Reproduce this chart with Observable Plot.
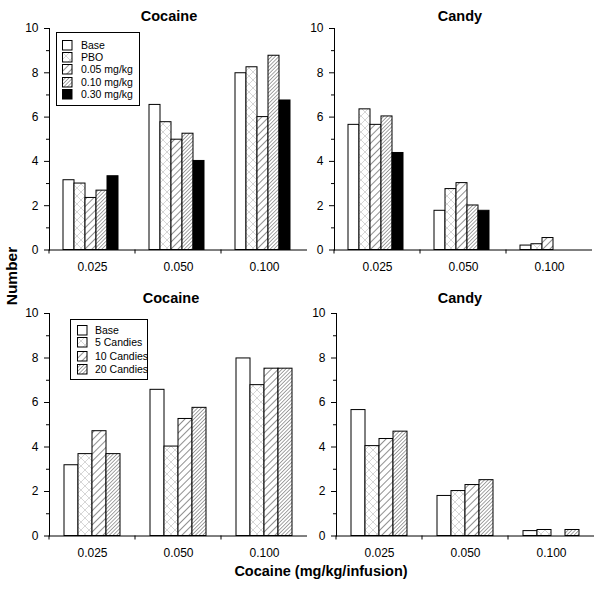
<!DOCTYPE html>
<html>
<head>
<meta charset="utf-8">
<script src="https://cdn.jsdelivr.net/npm/d3@7"></script>
<script src="https://cdn.jsdelivr.net/npm/@observablehq/plot@0.6"></script>
<style>
  html, body { margin: 0; padding: 0; background: #fff; }
  body { font-family: "Liberation Sans", Arial, Helvetica, sans-serif; color: #000; }
  #wrap { position: relative; width: 604px; height: 589px; overflow: hidden; }
  .panel { position: absolute; }
  .title { position: absolute; font-weight: bold; font-size: 14.5px; line-height: 1; transform: translateX(-50%); white-space: nowrap; }
  .ylab { position: absolute; font-weight: bold; font-size: 15.5px; line-height: 1; white-space: nowrap; transform: translate(-50%, -50%) rotate(-90deg); }
  .xlab { position: absolute; font-weight: bold; font-size: 14.5px; line-height: 1; white-space: nowrap; transform: translateX(-50%); }
  .legend { position: absolute; border: 1px solid #000; background: #fff; box-sizing: border-box; }
  .legend .row { position: absolute; left: 0; display: flex; align-items: center; font-size: 10.5px; line-height: 1; white-space: nowrap; }
  .legend svg { display: block; }
</style>
</head>
<body>
<svg width="0" height="0" style="position:absolute">
  <defs>
    <pattern id="crosshatch" patternUnits="userSpaceOnUse" width="8" height="8">
      <rect width="8" height="8" fill="#fff"/>
      <path d="M0,0L8,8M8,0L0,8" stroke="#c4c4c4" stroke-width="0.7" fill="none"/>
    </pattern>
    <pattern id="hatch" patternUnits="userSpaceOnUse" width="5" height="10" patternTransform="rotate(45)">
      <rect width="5" height="10" fill="#fff"/>
      <line x1="0" y1="0" x2="0" y2="10" stroke="#222" stroke-width="1"/>
    </pattern>
    <pattern id="densehatch" patternUnits="userSpaceOnUse" width="2.6" height="10" patternTransform="rotate(45)">
      <rect width="2.6" height="10" fill="#fff"/>
      <line x1="0" y1="0" x2="0" y2="10" stroke="#333" stroke-width="0.9"/>
    </pattern>
  </defs>
</svg>
<div id="wrap"></div>
<script>
// ---- data ----
const doses = ["0.025", "0.050", "0.100"];
const pretreatments = ["Base", "PBO", "0.05 mg/kg", "0.10 mg/kg", "0.30 mg/kg"];
const candyLoads = ["Base", "5 Candies", "10 Candies", "20 Candies"];
const yTicks = [0, 2, 4, 6, 8, 10];
const yMinorTicks = [1, 3, 5, 7, 9];
// one row per cocaine dose, one value per series
const pretreatCocaine = [[3.15, 3.0, 2.35, 2.68, 3.33], [6.55, 5.77, 4.98, 5.25, 4.02], [7.98, 8.25, 6.0, 8.77, 6.75]];
const pretreatCandy = [[5.65, 6.35, 5.65, 6.03, 4.38], [1.77, 2.75, 3.02, 2.01, 1.77], [0.2, 0.26, 0.54, 0, 0]];
const loadCocaine = [[3.18, 3.68, 4.71, 3.68], [6.57, 4.02, 5.26, 5.76], [7.98, 6.78, 7.52, 7.52]];
const loadCandy = [[5.66, 4.04, 4.36, 4.69], [1.8, 2.02, 2.29, 2.51], [0.22, 0.27, 0, 0.27]];

// ---- styles ----
const pretreatFills = ["#fff", "url(#crosshatch)", "url(#hatch)", "url(#densehatch)", "#000"];
const loadFills = ["#fff", "url(#crosshatch)", "url(#hatch)", "url(#densehatch)"];
const font = "'Liberation Sans', Arial, Helvetica, sans-serif";

const wrap = document.getElementById("wrap");

function boundaryTicks(index, scales, values, dims) {
  const ns = "http://www.w3.org/2000/svg";
  const x0 = scales.x && scales.x.range ? scales.x.range()[0] : dims.marginLeft;
  const y0 = scales.y ? scales.y(0) : dims.height - dims.marginBottom;
  const line = document.createElementNS(ns, "line");
  line.setAttribute("x1", x0); line.setAttribute("x2", x0);
  line.setAttribute("y1", y0); line.setAttribute("y2", y0 + 4);
  line.setAttribute("stroke", "#000");
  return line;
}

function panel(values, series, fills, o) {
  const rows = doses.flatMap((dose, i) => series.map((s, j) => ({dose, series: s, value: values[i][j]})));
  const chart = Plot.plot({
    width: o.width, height: o.height,
    marginLeft: o.ml, marginRight: o.mr, marginTop: o.mt, marginBottom: o.mb,
    style: {fontFamily: font, fontSize: "12px", background: "transparent", overflow: "visible", color: "#000"},
    fx: {domain: doses, padding: 0, label: null},
    x: {domain: series, paddingInner: 0, paddingOuter: o.po, align: o.align, axis: null},
    y: {domain: [0, 10], axis: null, label: null},
    color: {domain: series, range: fills},
    marks: [
      Plot.barY(rows, {fx: "dose", x: "series", y: "value", fill: "series", stroke: "#000", strokeWidth: 1}),
      Plot.ruleY([0], {stroke: "#000"}),
      Plot.frame({anchor: "left", facetAnchor: "left", stroke: "#000"}),
      Plot.axisY({ticks: yTicks, tickSize: 5, tickPadding: 6, fontSize: 12, label: null}),
      Plot.axisY({ticks: yMinorTicks, tickSize: 3, tickFormat: () => "", label: null}),
      Plot.axisFx({anchor: "bottom", tickSize: 0, tickPadding: 12, label: null, fontSize: 12}),
      boundaryTicks
    ]
  });
  chart.classList.add("panel");
  chart.style.left = o.left + "px";
  chart.style.top = o.top + "px";
  wrap.appendChild(chart);
}

panel(pretreatCocaine, pretreatments, pretreatFills, {left: 0, top: 0, width: 310, height: 290, ml: 48, mr: 3, mt: 28, mb: 40.5, po: 1.35, align: 0.46});
panel(pretreatCandy, pretreatments, pretreatFills, {left: 300, top: 0, width: 300, height: 290, ml: 33, mr: 7, mt: 28, mb: 40.5, po: 1.35, align: 0.46});
panel(loadCocaine, candyLoads, loadFills, {left: 0, top: 290, width: 310, height: 290, ml: 48, mr: 3, mt: 23, mb: 44.5, po: 1.0, align: 0.5});
panel(loadCandy, candyLoads, loadFills, {left: 300, top: 290, width: 300, height: 290, ml: 35, mr: 5, mt: 23, mb: 44.5, po: 1.0, align: 0.5});

// titles and axis labels
function addText(cls, text, x, y) {
  const d = document.createElement("div");
  d.className = cls; d.textContent = text;
  d.style.left = x + "px"; d.style.top = y + "px";
  wrap.appendChild(d);
}
addText("title", "Cocaine", 169, 8.5);
addText("title", "Candy", 460, 8.5);
addText("title", "Cocaine", 171, 291);
addText("title", "Candy", 460, 291);
addText("ylab", "Number", 12, 276);
addText("xlab", "Cocaine (mg/kg/infusion)", 321, 564);

// legends
function legend(series, fills, box, rowYs, swX, textX) {
  const lg = document.createElement("div");
  lg.className = "legend";
  Object.assign(lg.style, {left: box[0] + "px", top: box[1] + "px", width: box[2] + "px", height: box[3] + "px"});
  series.forEach((s, i) => {
    const row = document.createElement("div");
    row.className = "row";
    row.style.top = (rowYs[i] - box[1] - 6) + "px";
    row.style.height = "12px";
    row.style.left = (swX - box[0] - 1) + "px";
    const sw = document.createElementNS("http://www.w3.org/2000/svg", "svg");
    sw.setAttribute("width", 11); sw.setAttribute("height", 11);
    const r = document.createElementNS("http://www.w3.org/2000/svg", "rect");
    r.setAttribute("x", 0.5); r.setAttribute("y", 0.5); r.setAttribute("width", 9.5); r.setAttribute("height", 9.5);
    r.setAttribute("fill", fills[i]); r.setAttribute("stroke", "#000");
    sw.appendChild(r);
    const t = document.createElement("span");
    t.textContent = s;
    t.style.marginLeft = (textX - swX - 11) + "px";
    row.appendChild(sw); row.appendChild(t);
    lg.appendChild(row);
  });
  wrap.appendChild(lg);
}
legend(pretreatments, pretreatFills, [56, 32, 84, 74], [44, 56, 68, 81, 93], 62, 81);
legend(candyLoads, loadFills, [70, 319, 78, 61], [329, 341, 355, 368], 77, 95);
</script>
</body>
</html>
